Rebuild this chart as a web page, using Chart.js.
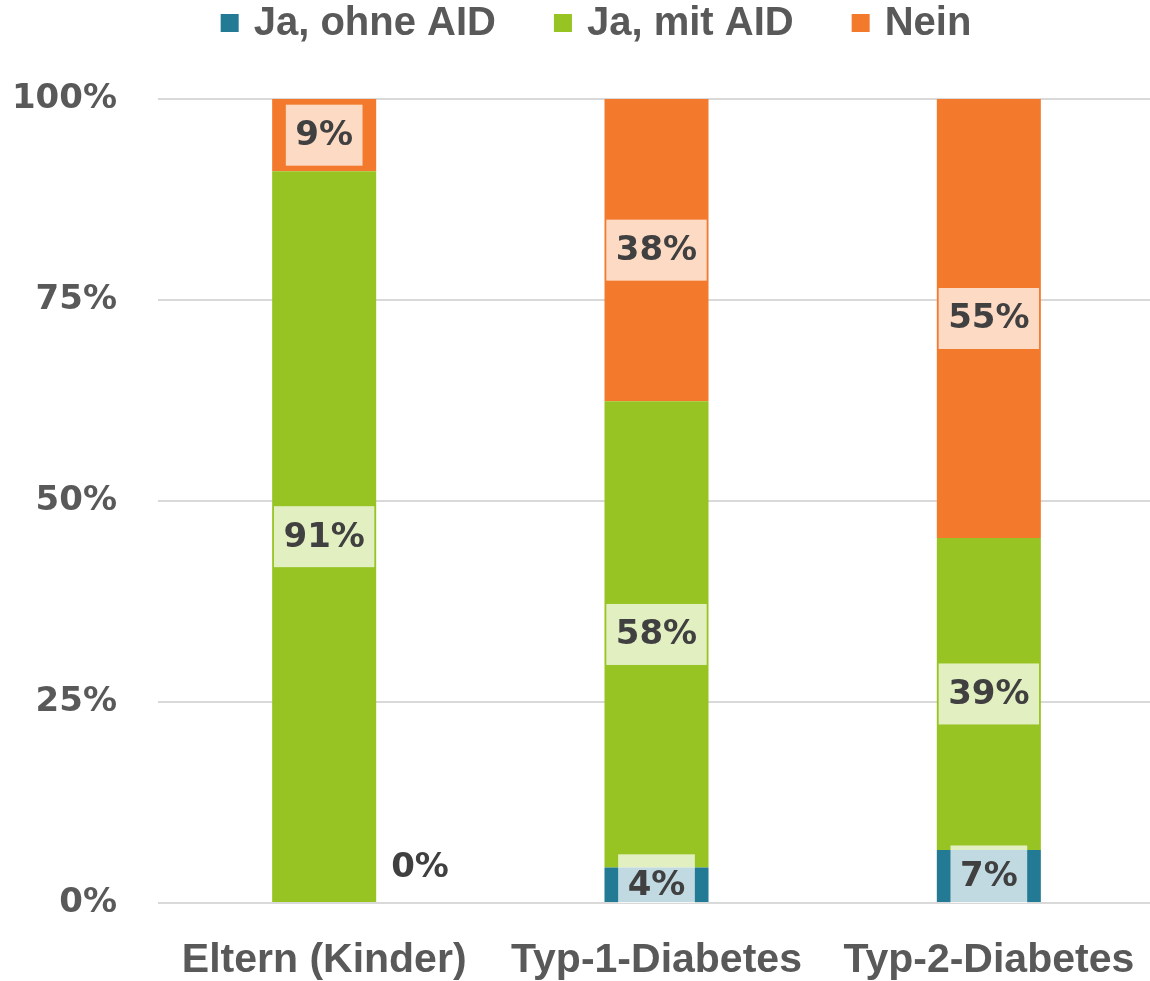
<!DOCTYPE html>
<html>
<head>
<meta charset="utf-8">
<script src="https://cdn.jsdelivr.net/npm/chart.js@4"></script>
<style>
  html, body { margin: 0; padding: 0; background: #ffffff; overflow: hidden; }
  #wrap { width: 1155px; height: 981px; position: relative; }
</style>
</head>
<body>
<div id="wrap"><canvas id="c"></canvas></div>
<script>
const categories = ["Eltern (Kinder)", "Typ-1-Diabetes", "Typ-2-Diabetes"];
const seriesNames = ["Ja, ohne AID", "Ja, mit AID", "Nein"];
const jaOhneAID = [0, 4.4, 6.6];
const jaMitAID = [91, 58.0, 38.8];
const nein = [9, 37.6, 54.6];
const yTicks = [0, 25, 50, 75, 100];

const colors = ["#237a94", "#97c423", "#f37a2c"];
const TEXT_GREY = "#595959";
const LABEL_DARK = "#404040";
const TICK_FONT = "bold 34px 'DejaVu Sans'";
const CAT_FONT_FAMILY = "'Liberation Sans', Arial, sans-serif";

const dataLabelPlugin = {
  id: "boxLabels",
  afterDatasetsDraw(chart) {
    const ctx = chart.ctx;
    const area = chart.chartArea;
    ctx.save();
    ctx.font = TICK_FONT;
    ctx.textBaseline = "middle";
    chart.data.datasets.forEach((ds, di) => {
      const meta = chart.getDatasetMeta(di);
      meta.data.forEach((bar, i) => {
        const v = ds.data[i];
        const txt = Math.round(v) + "%";
        const w = ctx.measureText(txt).width;
        if (v === 0) {
          ctx.fillStyle = LABEL_DARK;
          ctx.textAlign = "left";
          ctx.fillText(txt, bar.x + bar.width / 2 + 15, bar.base - 35);
          return;
        }
        const cy = (bar.y + bar.base) / 2;
        const bw = w + 19, bh = 61;
        ctx.save();
        ctx.beginPath();
        ctx.rect(area.left, area.top, area.right - area.left, area.bottom - area.top);
        ctx.clip();
        ctx.fillStyle = "rgba(255,255,255,0.72)";
        ctx.fillRect(bar.x - bw / 2, cy - bh / 2, bw, bh);
        ctx.restore();
        ctx.fillStyle = LABEL_DARK;
        ctx.textAlign = "center";
        ctx.fillText(txt, bar.x, cy + 1);
      });
    });
    ctx.restore();
  }
};

const legendPlugin = {
  id: "topLegend",
  afterDraw(chart) {
    const ctx = chart.ctx;
    ctx.save();
    ctx.font = "bold 40px " + CAT_FONT_FAMILY;
    ctx.textBaseline = "middle";
    ctx.textAlign = "left";
    const box = 18, gap = 15, spacing = 58;
    const items = chart.data.datasets.map(d => ({ text: d.label, color: d.backgroundColor, w: ctx.measureText(d.label).width }));
    let total = 0;
    items.forEach((it, i) => { total += box + gap + it.w + (i < items.length - 1 ? spacing : 0); });
    let x = 596 - total / 2;
    const cy = 23;
    items.forEach(it => {
      ctx.fillStyle = it.color;
      ctx.fillRect(x, cy - box / 2, box, box);
      x += box + gap;
      ctx.fillStyle = TEXT_GREY;
      ctx.fillText(it.text, x, cy + 1);
      x += it.w + spacing;
    });
    ctx.restore();
  }
};

const seriesValues = [jaOhneAID, jaMitAID, nein];

new Chart(document.getElementById("c"), {
  type: "bar",
  data: {
    labels: categories,
    datasets: seriesNames.map((name, i) => ({
      label: name,
      data: seriesValues[i],
      backgroundColor: colors[i],
      borderWidth: 0,
      barPercentage: 1,
      categoryPercentage: 0.313
    }))
  },
  options: {
    responsive: true,
    maintainAspectRatio: false,
    animation: false,
    layout: { padding: { top: 99, left: 0, right: 0, bottom: 0 } },
    plugins: {
      legend: { display: false },
      tooltip: { enabled: false }
    },
    scales: {
      x: {
        stacked: true,
        grid: { display: false, drawTicks: false },
        border: { display: false },
        ticks: {
          color: TEXT_GREY,
          font: { family: CAT_FONT_FAMILY, weight: "bold", size: 41, lineHeight: 1.0 },
          padding: 37,
          maxRotation: 0,
          autoSkip: false
        },
        afterFit(scale) { scale.height = 78; scale.paddingLeft = 0; scale.paddingRight = 0; }
      },
      y: {
        stacked: true,
        min: 0,
        max: 100,
        afterBuildTicks(scale) { scale.ticks = yTicks.map(v => ({ value: v })); },
        grid: { color: "#d9d9d9", lineWidth: 2, drawTicks: false },
        border: { display: false },
        ticks: {
          color: TEXT_GREY,
          font: { family: "'DejaVu Sans'", weight: "bold", size: 34 },
          padding: 41,
          callback: v => v + "%"
        },
        afterFit(scale) { scale.width = 158; scale.paddingTop = 0; scale.paddingBottom = 0; }
      }
    }
  },
  plugins: [dataLabelPlugin, legendPlugin]
});
</script>
</body>
</html>
